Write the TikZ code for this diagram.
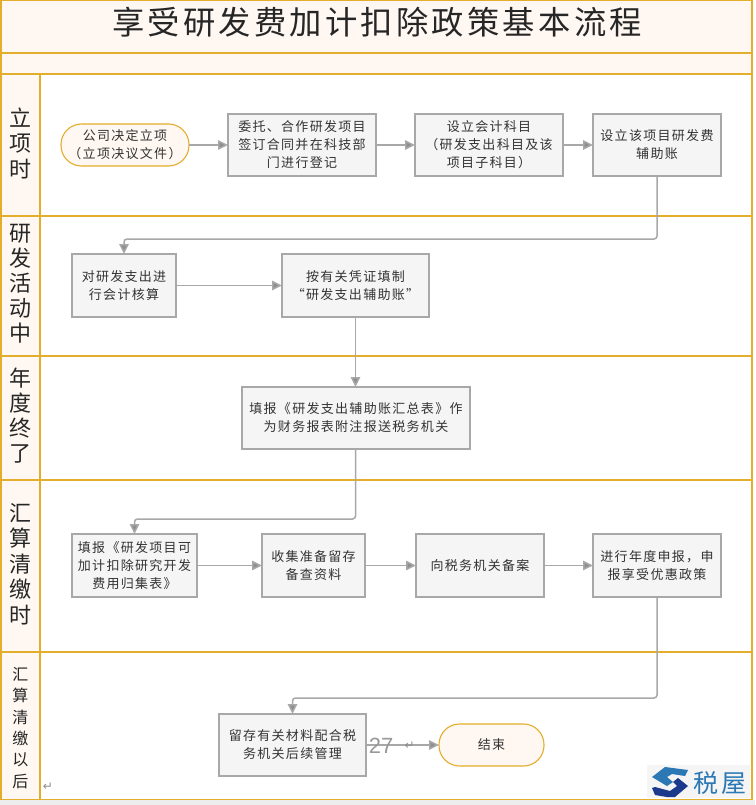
\documentclass[tikz,border=0pt]{standalone}
\usepackage{xcolor}
\usepackage{fontspec}
\usepackage{tikz}
\usetikzlibrary{arrows.meta,positioning}
\setmainfont[LetterSpace=10]{Noto Sans CJK SC}
\newfontfamily\symbfont{DejaVu Sans}
\newfontfamily\numfont{Liberation Sans}
\definecolor{gold}{HTML}{E3AE2B}
\definecolor{softcream}{HTML}{FFF8F2}
\definecolor{boxgray}{HTML}{F5F5F5}
\definecolor{linegray}{HTML}{A8A8A8}
\definecolor{tipgray}{HTML}{8E8E8E}
\definecolor{logoblue}{HTML}{2B78B4}
\definecolor{logonavy}{HTML}{1B3A8C}

\begin{document}
\begin{tikzpicture}[
    x=1pt, y=1pt,
    band/.style={draw=gold, line width=1.4pt, fill=softcream, anchor=north west, inner sep=0pt, outer sep=0pt, minimum width=751pt},
    lanecell/.style={draw=gold, line width=1.4pt, fill=white, anchor=north west, inner sep=0pt, outer sep=0pt, minimum width=751pt},
    lanehead/.style={draw=gold, line width=1.2pt, fill=softcream, anchor=north west, inner sep=0pt, outer sep=0pt, minimum width=39pt},
    lanetext/.style={align=center, inner sep=0pt, text=black!85},
    proc/.style={draw=linegray, line width=1.3pt, fill=boxgray, align=center, inner sep=0pt, outer sep=0pt, minimum height=62pt, font=\fontsize{13}{18}\selectfont, text=black!80},
    term/.style={draw=gold, line width=1.1pt, fill=softcream, rounded corners=20.5pt, align=center, inner sep=0pt, outer sep=0pt, minimum height=42pt, font=\fontsize{13}{18}\selectfont, text=black!80},
    arrow/.style={-{Triangle[length=10pt,width=9.5pt,fill=tipgray]}, draw=linegray, line width=1.5pt, rounded corners=3pt},
    retmark/.style={text=black!45, inner sep=0pt, font=\symbfont\fontsize{12}{12}\selectfont}
]
\useasboundingbox (0,0) rectangle (755,-805);

\node[band, minimum height=53pt] (titleband) at (1,0) {};
\node[band, minimum height=21pt, below=0pt of titleband.south west, anchor=north west] (gapband) {};
\node[font=\fontsize{32.3}{32}\selectfont, text=black!85] (title) at (377,-22) {享受研发费加计扣除政策基本流程};

\node[lanecell, minimum height=142pt] (lane1) at (1,-74) {};
\node[lanecell, minimum height=140pt] (lane2) at (1,-216) {};
\node[lanecell, minimum height=124pt] (lane3) at (1,-356) {};
\node[lanecell, minimum height=172pt] (lane4) at (1,-480) {};
\node[lanecell, minimum height=148pt] (lane5) at (1,-652) {};

\node[lanehead, minimum height=142pt] (head1) at (1,-74) {};
\node[lanehead, minimum height=140pt] (head2) at (1,-216) {};
\node[lanehead, minimum height=124pt] (head3) at (1,-356) {};
\node[lanehead, minimum height=172pt] (head4) at (1,-480) {};
\node[lanehead, minimum height=148pt] (head5) at (1,-652) {};

\fill[black!7] (0,-800) rectangle (755,-805);
\draw[gold, line width=2.4pt] (titleband.north west) -- (lane5.south west |- 0,-800);
\draw[gold, line width=2.4pt] (titleband.north east) -- (lane5.south east |- 0,-800);

\node[lanetext, yshift=2pt, font=\fontsize{22}{25.5}\selectfont] (label1) at (head1) {立\\项\\时};
\node[lanetext, yshift=2pt, font=\fontsize{22}{25}\selectfont] (label2) at (head2) {研\\发\\活\\动\\中};
\node[lanetext, yshift=2.5pt, font=\fontsize{22}{25}\selectfont] (label3) at (head3) {年\\度\\终\\了};
\node[lanetext, yshift=2pt, font=\fontsize{22}{25.5}\selectfont] (label4) at (head4) {汇\\算\\清\\缴\\时};
\node[lanetext, yshift=-2pt, font=\fontsize{16}{21.3}\selectfont] (label5) at (head5) {汇\\算\\清\\缴\\以\\后};

\node[term, minimum width=128pt] (start) at (125,-145) {公司决定立项\\（立项决议文件）};
\node[proc, minimum width=148pt, right=39pt of start] (entrust) {委托、合作研发项目\\签订合同并在科技部\\门进行登记};
\node[proc, minimum width=148pt, right=39pt of entrust] (subject) {设立会计科目\\（研发支出科目及该\\项目子科目）};
\node[proc, minimum width=128pt, right=30pt of subject] (ledger) {设立该项目研发费\\辅助账};

\node[proc, minimum width=104pt, minimum height=63pt] (account) at (124,-285.5) {对研发支出进\\行会计核算};
\node[proc, minimum width=147pt, minimum height=63pt, right=106pt of account] (voucher) {按有关凭证填制\\“研发支出辅助账”};

\node[proc, minimum width=228pt] (summary) at (356,-418) {填报《研发支出辅助账汇总表》作\\为财务报表附注报送税务机关};

\node[proc, minimum width=125pt, minimum height=63pt] (form) at (134.5,-565.5) {填报《研发项目可\\加计扣除研究开发\\费用归集表》};
\node[proc, minimum width=103pt, minimum height=63pt, right=65pt of form] (collect) {收集准备留存\\备查资料};
\node[proc, minimum width=128pt, minimum height=63pt, right=51pt of collect] (filing) {向税务机关备案};
\node[proc, minimum width=128pt, minimum height=63pt, right=49pt of filing] (declare) {进行年度申报，申\\报享受优惠政策};

\node[proc, minimum width=147pt] (archive) at (292.5,-745) {留存有关材料配合税\\务机关后续管理};
\node[term, minimum width=105pt, right=73pt of archive] (finish) {结束};

\draw[arrow] (start) -- (entrust);
\draw[arrow] (entrust) -- (subject);
\draw[arrow] (subject) -- (ledger);
\draw[arrow] (ledger.south) |- ([yshift=15pt]account.north) -- (account.north);
\draw[arrow] (account) -- (voucher);
\draw[arrow] (voucher.south) -- (voucher.south |- summary.north);
\draw[arrow] (summary.south -| voucher.south) |- ([yshift=15pt]form.north) -- (form.north);
\draw[arrow] (form) -- (collect);
\draw[arrow] (collect) -- (filing);
\draw[arrow] (filing) -- (declare);
\draw[arrow] (declare.south) |- ([yshift=16pt]archive.north) -- (archive.north);
\draw[arrow] (archive) -- (finish);

\node[text=black!40, inner sep=0pt, font=\numfont\fontsize{22}{22}\selectfont] (pageno) at (381,-746) {27};
\node[retmark, right=11pt of pageno] (pagemark) {↵};
\node[retmark] (endmark) at (48,-787) {↵};

\fill[black!4] (647,-765) rectangle (750,-798);
\fill[logoblue] (688,-770) -- (665,-767) -- (652,-777) -- (667,-786) -- (673,-782) -- (667,-777) -- (672,-774) -- (685,-776) -- cycle;
\fill[logonavy] (652,-788) -- (655,-795) -- (667,-797) -- (675,-797) -- (688,-786) -- (678,-778) -- (673,-782) -- (677,-786) -- (670,-791) -- (655,-787) -- cycle;
\node[text=logoblue, inner sep=0pt, font=\fontsize{25}{25}\selectfont] (logotext) at (720,-783.5) {税屋};
\end{tikzpicture}
\end{document}
